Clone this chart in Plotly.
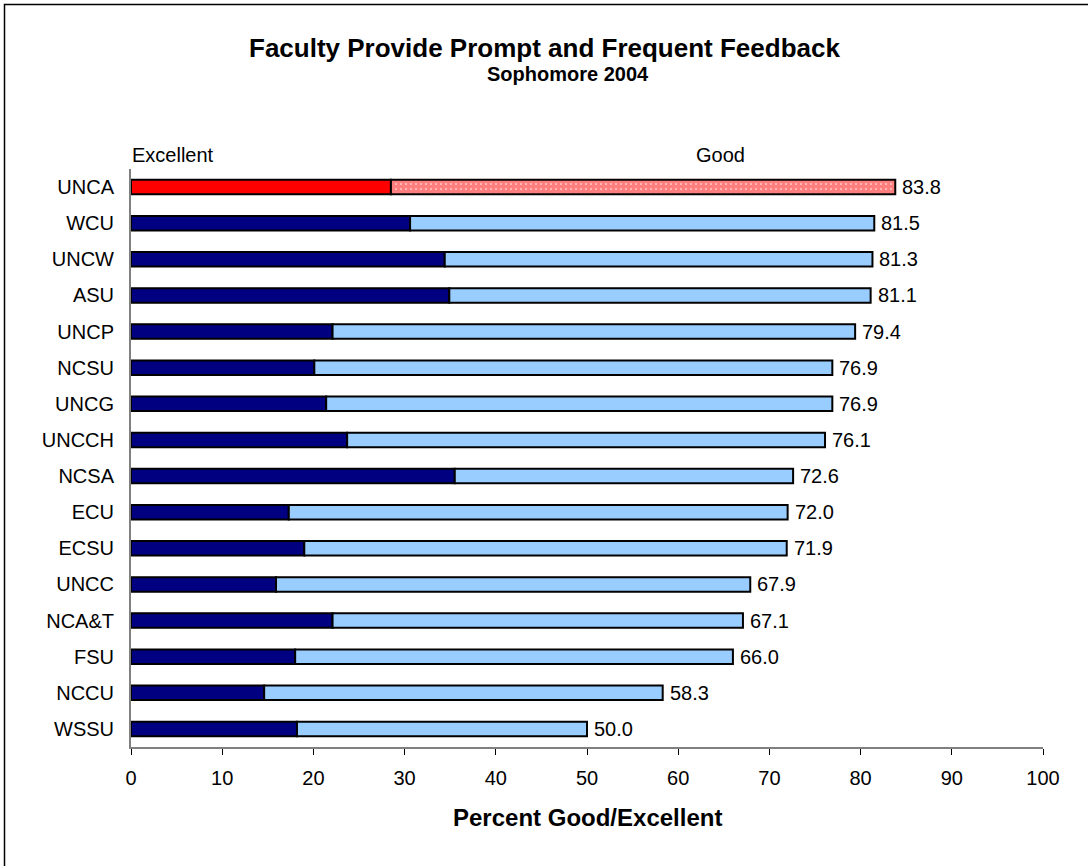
import plotly.graph_objects as go

schools = ["UNCA", "WCU", "UNCW", "ASU", "UNCP", "NCSU", "UNCG", "UNCCH",
           "NCSA", "ECU", "ECSU", "UNCC", "NCA&T", "FSU", "NCCU", "WSSU"]
excellent = [28.5, 30.6, 34.4, 34.9, 22.1, 20.1, 21.4, 23.7,
             35.5, 17.3, 19.0, 15.9, 22.1, 18.0, 14.6, 18.2]
total = [83.8, 81.5, 81.3, 81.1, 79.4, 76.9, 76.9, 76.1,
         72.6, 72.0, 71.9, 67.9, 67.1, 66.0, 58.3, 50.0]
good = [round(t - e, 1) for t, e in zip(total, excellent)]

font_family = "Arial, Liberation Sans, sans-serif"
navy = "#000080"
light = "#99CCFF"
red = "#FF0000"
hi = "UNCA"

W, H = 1088, 866
L, T = 131, 169
PW, PH = 912, 578
R, B = W - L - PW, H - T - PH


def py(page_y):
    return 1 - (page_y - T) / PH


def px(page_x):
    return (page_x - L) / PW


fig = go.Figure()

fig.add_trace(go.Bar(
    y=schools, x=excellent, orientation="h",
    marker=dict(color=[red if s == hi else navy for s in schools],
                line=dict(color="black", width=2)),
    showlegend=False,
))
fig.add_trace(go.Bar(
    y=[s for s in schools if s != hi],
    x=[g for s, g in zip(schools, good) if s != hi],
    base=[e for s, e in zip(schools, excellent) if s != hi],
    orientation="h",
    marker=dict(color=light, line=dict(color="black", width=2)),
    showlegend=False,
))
fig.add_trace(go.Bar(
    y=[s for s in schools if s == hi],
    x=[g for s, g in zip(schools, good) if s == hi],
    base=[e for s, e in zip(schools, excellent) if s == hi],
    orientation="h",
    marker=dict(color="white", line=dict(color="black", width=2),
                pattern=dict(shape=".", fgcolor=red, bgcolor="white",
                             size=5, solidity=0.85)),
    showlegend=False,
))

for s, t in zip(schools, total):
    fig.add_annotation(x=t, y=s, text=f"{t:.1f}", showarrow=False,
                       xanchor="left", xshift=5,
                       font=dict(size=20, color="black", family=font_family))

fig.update_layout(
    width=W, height=H,
    margin=dict(l=L, r=R, t=T, b=B, pad=0),
    barmode="overlay", bargap=0.6,
    plot_bgcolor="white", paper_bgcolor="white",
    font=dict(family=font_family, size=20, color="black"),
    xaxis=dict(range=[0, 100], dtick=10, showgrid=False, zeroline=False,
               showline=True, linecolor="#808080", linewidth=2,
               ticks="outside", ticklen=6, tickcolor="black", tickwidth=1,
               tickfont=dict(size=20), ticklabelstandoff=6),
    yaxis=dict(categoryorder="array", categoryarray=schools,
               autorange="reversed", showgrid=False, zeroline=False,
               showline=True, linecolor="#808080", linewidth=2,
               ticks="", tickfont=dict(size=20), ticklabelstandoff=11),
)

fig.add_annotation(text="<b>Faculty Provide Prompt and Frequent Feedback</b>",
                   xref="paper", yref="paper", x=px(544), y=py(48),
                   showarrow=False, font=dict(size=26), yanchor="middle")
fig.add_annotation(text="<b>Sophomore 2004</b>", xref="paper", yref="paper",
                   x=px(568), y=py(74), showarrow=False,
                   font=dict(size=20), yanchor="middle")
fig.add_annotation(text="Excellent", xref="paper", yref="paper",
                   x=px(130), y=py(155), xanchor="left",
                   showarrow=False, font=dict(size=20), yanchor="middle")
fig.add_annotation(text="Good", xref="paper", yref="paper",
                   x=px(720), y=py(155),
                   showarrow=False, font=dict(size=20), yanchor="middle")
fig.add_annotation(text="<b>Percent Good/Excellent</b>", xref="paper", yref="paper",
                   x=px(587), y=py(817), showarrow=False,
                   font=dict(size=24), yanchor="middle")

fig.add_shape(type="rect", xref="paper", yref="paper",
              x0=px(4.5), x1=px(W + 20), y0=py(H + 20), y1=py(4.5),
              line=dict(color="black", width=1.5), layer="below")

fig.write_html("out.html", config={"displayModeBar": False},
               post_script="document.body.style.margin='0';")
